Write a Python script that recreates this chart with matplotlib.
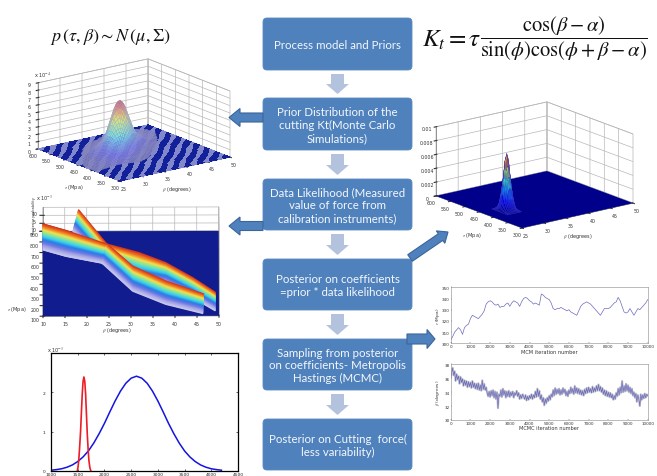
import numpy as np
import matplotlib
matplotlib.use("Agg")
import matplotlib.pyplot as plt
from matplotlib.patches import FancyBboxPatch, FancyArrow
from matplotlib.colors import LinearSegmentedColormap
from mpl_toolkits.mplot3d import proj3d

W, H = 657, 477
plt.rcParams['mathtext.fontset'] = 'stix'

# ---------- flow chart content ----------
box_labels = ["Process model and Priors",
              "Prior Distribution of the\ncutting Kt(Monte Carlo\nSimulations)",
              "Data Likelihood (Measured\nvalue of force from\ncalibration instruments)",
              "Posterior on coefficients\n=prior * data likelihood",
              "Sampling from posterior\non coefficients- Metropolis\nHastings (MCMC)",
              "Posterior on Cutting  force(\nless variability)"]
box_tops = [19, 99, 180, 260, 340, 420]
box_bottoms = [71, 151, 231, 311, 391, 471]

# ---------- line chart ----------
blue_x = [1000, 1100, 1200, 1300, 1400, 1500, 1600, 1700, 1800, 1900, 2000, 2100, 2200, 2300, 2400, 2500, 2600,
          2700, 2800, 2900, 3000, 3100, 3200, 3300, 3400, 3500, 3600, 3700, 3800, 3900, 4000, 4100, 4190]
blue_y = [.02, .035, .057, .096, .154, .24, .357, .51, .71, .947, 1.21, 1.50, 1.78, 2.03, 2.23, 2.36, 2.41,
          2.36, 2.23, 2.03, 1.78, 1.50, 1.21, .947, .71, .51, .357, .24, .154, .096, .057, .035, .02]
red_x = [1492, 1508, 1523, 1538, 1554, 1570, 1585, 1600, 1616, 1632, 1648, 1663, 1679, 1695, 1710, 1728, 1747]
red_y = [0, .12, .34, .65, 1.02, 1.52, 1.96, 2.28, 2.39, 2.28, 1.96, 1.46, .94, .55, .26, .08, 0]

# ---------- MCMC traces ----------
tau_trace = [303, 306, 310, 312, 314, 312, 308, 314, 316, 317, 322, 325, 324, 323, 322, 324, 326, 329, 335, 337,
             338, 337, 335, 334, 335, 332, 333, 333, 335, 336, 333, 336, 338, 337, 336, 333, 337, 340, 341, 340,
             338, 337, 335, 336, 335, 334, 344, 343, 341, 340, 339, 336, 331, 330, 331, 331, 332, 331, 330, 329,
             330, 328, 327, 326, 325, 329, 333, 335, 336, 337, 336, 335, 333, 331, 329, 327, 325, 328, 331, 331,
             331, 332, 334, 336, 337, 341, 338, 333, 328, 327, 328, 331, 328, 325, 328, 331, 330, 332, 334, 336, 339]
beta_trace = [36.0, 36.8, 37.5, 36.4, 37.0, 35.6, 36.6, 35.8, 36.3, 35.2, 36.2, 35.4, 35.9, 34.9, 35.7, 35.0, 35.6, 34.7, 35.5, 34.8,
              35.4, 34.6, 35.6, 34.7, 35.3, 34.5, 35.2, 34.4, 35.3, 34.3, 35.0, 34.2, 35.7, 34.4, 35.2, 34.3, 34.7, 33.9, 33.4, 34.1,
              33.3, 34.2, 33.5, 34.3, 33.2, 34.1, 33.0, 34.0, 31.7, 33.7, 33.4, 34.3, 33.3, 34.5, 33.6, 34.2, 33.2, 34.1, 33.4, 34.2,
              33.3, 34.0, 33.5, 34.1, 33.2, 33.9, 33.6, 34.2, 33.4, 33.9, 33.0, 33.6, 33.1, 33.7, 33.4, 33.0, 33.6, 32.8, 33.4, 32.9,
              33.5, 33.1, 33.7, 33.0, 33.6, 33.2, 34.1, 33.3, 34.5, 33.4, 34.2, 33.0, 33.6, 32.6, 33.2, 32.1, 33.0, 32.4, 33.2, 32.7,
              33.5, 32.9, 33.7, 33.3, 34.3, 33.5, 34.6, 33.7, 34.4, 33.8, 34.5, 33.6, 34.3, 33.7, 34.6, 33.9, 34.4, 33.5, 34.1, 33.4,
              34.3, 33.8, 34.7, 33.9, 34.5, 33.7, 34.9, 33.9, 34.6, 33.8, 34.5, 33.7, 34.3, 33.6, 34.2, 33.5, 34.4, 33.8, 34.6, 33.9,
              34.7, 34.0, 34.5, 33.9, 34.8, 34.0, 34.6, 34.1, 34.9, 34.2, 35.1, 34.2, 34.8, 34.0, 34.6, 33.7, 34.3, 33.5, 34.2, 33.4,
              34.0, 33.3, 33.9, 33.2, 33.7, 32.9, 33.5, 33.0, 33.9, 33.4, 34.5, 33.6, 34.7, 33.9, 35.6, 34.0, 34.9, 34.1, 35.2, 34.2,
              35.0, 34.0, 34.7, 33.8, 34.5, 33.5, 34.0, 33.2, 33.8, 32.6, 33.6, 33.0, 32.0, 33.7, 32.9, 33.6, 33.1, 33.8, 33.2, 33.7, 33.5]
trace_step = 50
tau_step = 100

# ---------- prior surface (top left) ----------
prior_tau_nodes = [380, 400, 420, 440, 460, 480, 500, 520, 540, 560, 580, 600]
prior_ridge_beta = [29.5, 31, 32.3, 33.5, 34.8, 36, 37.3, 38.5, 39.8, 41, 42.3, 43.5]
prior_ridge_z = [0.0, .5, 1.0, 1.8, 3.6, 5.9, 6.6, 4.6, 2.2, .8, .2, 0]
prior_cross_d = [-9, -7, -5, -4, -3, -2, -1, 0, 1, 2, 3, 4, 5, 7, 9]
prior_cross_f = [0, .03, .1, .2, .38, .65, .9, 1, .9, .65, .38, .2, .1, .03, 0]

# ---------- posterior surface (top right) ----------
post_tau_nodes = [395, 402, 409, 416, 423, 430, 437, 444, 451]
post_ridge_z = [0, .6, 1.9, 5.0, 8.2, 5.0, 1.9, .6, 0]
post_cross_d = [-1.6, -1.2, -.8, -.4, 0, .4, .8, 1.2, 1.6]
post_cross_f = [0, .15, .5, .88, 1, .88, .5, .15, 0]

# ---------- likelihood bands (middle left), beta / tau ----------
bandA_top_beta = [10, 15.3, 24.3, 31.9, 37.9, 44, 49.2]
bandA_top_tau = [969, 906, 781, 696, 602, 461, 320]
bandA_bot_beta = [10, 15.3, 23.2, 31.9, 37.9, 44, 49.2]
bandA_bot_tau = [727, 665, 602, 420, 398, 272, 147]
bandB_top_beta = [18.1, 24.3, 30.4, 37.9, 46.6]
bandB_top_tau = [1104, 790, 570, 429, 304]
bandB_bot_beta = [16.8, 23.4, 30.4, 37.9, 46.4]
bandB_bot_tau = [900, 602, 335, 210, 122]

BOX = '#4f81bd'
ARROW_EDGE = '#3a659b'
PALE = '#b3c3de'
GRID = '#b8b8b8'
TXT = '#333333'

fig = plt.figure(figsize=(W / 100, H / 100), dpi=100, facecolor='white')


def px_axes(l, t, r, b, **kw):
    return fig.add_axes([l / W, 1 - b / H, (r - l) / W, (b - t) / H], **kw)


# -------- overlay ---------
ov = fig.add_axes([0, 0, 1, 1], zorder=10)
ov.set_xlim(0, W)
ov.set_ylim(H, 0)
ov.axis('off')
ov.patch.set_alpha(0)

for lab, t, b in zip(box_labels, box_tops, box_bottoms):
    ov.add_patch(FancyBboxPatch((267, t + 4), 141, b - t - 8, boxstyle='round,pad=4,rounding_size=4',
                                fc=BOX, ec='#5a8ac2', lw=0.6))
    ov.text(337.5, (t + b) / 2 + 0.5, lab, color='#f4f7fb', ha='center', va='center',
            family='Lato', fontsize=8.3, linespacing=1.2)

for a, b in zip(box_bottoms[:-1], box_tops[1:]):
    ov.add_patch(FancyArrow(337.5, a + 4, 0, b - a - 8 + 0, width=13, head_width=23, head_length=10,
                            length_includes_head=True, fc=PALE, ec='none'))

for x, y, dx, dy, w_, hw, hl in [(263, 118.5, -34, 0, 9, 18, 11), (263, 227, -34, 0, 9, 18, 11),
                                 (407, 340, 28, 0, 10, 19, 8), (410, 259, 38, -26, 8, 15, 9)]:
    ov.add_patch(FancyArrow(x, y, dx, dy, width=w_, head_width=hw, head_length=hl,
                            length_includes_head=True, fc=BOX, ec=ARROW_EDGE, lw=0.8))

ov.text(50, 37, r'$p\,(\tau,\beta)\sim N\,(\mu,\Sigma)$', fontsize=13, va='center', ha='left', color='#111111')
ov.text(422, 40, r'$K_t=\tau$', fontsize=18, va='center', ha='left', color='#111111')
ov.text(480, 39, r'$\dfrac{\cos(\beta-\alpha)}{\sin(\phi)\cos(\phi+\beta-\alpha)}$',
        fontsize=14.8, va='center', ha='left', color='#111111')

small = dict(fontsize=3.6, color=TXT, ha='center', va='center')
ov.text(74, 188, r'$\tau$ (Mpa)', **small)
ov.text(177, 190, r'$\beta$ (degrees)', **small)
ov.text(43, 76, r'x 10$^{-4}$', **small)
ov.text(17, 310, r'$\tau$ (Mpa)', **small)
ov.text(117, 331, r'$\beta$ (degrees)', **small)
ov.text(44, 199, r'x 10$^{-3}$', **small)
ov.text(34, 216, 'Posterior probability', rotation=90, fontsize=2.6, color=TXT, ha='center', va='center')
ov.text(472, 236, r'$\tau$ (Mpa)', **small)
ov.text(578, 237, r'$\beta$ (degrees)', **small)


def style3d(ax, xt, yt, zt, xl, yl, zl, zfmt=None):
    ax.set_proj_type('ortho')
    ax.set_xlim(*xl); ax.set_ylim(*yl); ax.set_zlim(*zl)
    ax.set_xticks(xt); ax.set_yticks(yt); ax.set_zticks(zt)
    if zfmt:
        ax.set_zticklabels(zfmt)
    ax.tick_params(labelsize=3.4, pad=-4.5, colors=TXT, width=0.3, length=1)
    ax.patch.set_alpha(0)
    for a in (ax.xaxis, ax.yaxis, ax.zaxis):
        a.set_pane_color((1, 1, 1, 1))
        a.pane.set_edgecolor(GRID)
        a.pane.set_linewidth(0.5)
        a._axinfo['grid'].update(color=GRID, linewidth=0.5)
        a.line.set_linewidth(0.4)
        a.line.set_color('#555555')


def place3d(ax, c1, c2, t1, t2):
    """Move the 3D axes so that two floor corners land on the wanted pixels."""
    for _ in range(4):
        ax.apply_aspect()
        M = ax.get_proj()
        P = []
        for c in (c1, c2):
            x, y, _z = proj3d.proj_transform(*c, M)
            P.append(ax.transData.transform((x, y)))
        p1, p2 = P
        d_now = np.hypot(*(p2 - p1))
        d_want = np.hypot(t2[0] - t1[0], t2[1] - t1[1])
        s = d_want / d_now
        pos = ax.get_position(original=True)
        cx, cy = (pos.x0 + pos.x1) / 2, (pos.y0 + pos.y1) / 2
        midp = (p1 + p2) / 2
        midt = ((t1[0] + t2[0]) / 2, H - (t1[1] + t2[1]) / 2)
        cx += (midt[0] - midp[0]) / W
        cy += (midt[1] - midp[1]) / H
        wpx, hpx = pos.width * W * s, pos.height * H * s
        ax.set_position([cx - wpx / W / 2, cy - hpx / H / 2, wpx / W, hpx / H])


# -------- top-left prior surface ---------
ax = fig.add_axes([0.0, 0.55, 0.4, 0.4], projection='3d', computed_zorder=False)
style3d(ax, [25, 30, 35, 40, 45, 50], [300, 350, 400, 450, 500, 550, 600],
        list(range(0, 10)), (25, 50), (300, 600), (0, 9))
ax.view_init(elev=17, azim=-126.7)
ax.set_box_aspect((137, 137, 69))
bg, tg = np.meshgrid(np.linspace(25, 50, 61), np.linspace(300, 600, 61))
ii, jj = np.meshgrid(np.arange(60), np.arange(60))
stripe = np.where((ii - jj) % 7 < 4, 0, 1)
fc = np.empty(stripe.shape + (4,))
fc[stripe == 0] = matplotlib.colors.to_rgba('#12209a')
fc[stripe == 1] = matplotlib.colors.to_rgba('#8188cc')
ax.plot_surface(bg, tg, np.zeros_like(bg), facecolors=fc, shade=False, linewidth=0,
                antialiased=False, rstride=1, cstride=1, zorder=1)
bm = np.linspace(25, 50, 51)
tm = np.linspace(390, 600, 43)
Bm, Tm = np.meshgrid(bm, tm)
ridge_b = np.interp(tm, prior_tau_nodes, prior_ridge_beta)
ridge_z = np.interp(tm, prior_tau_nodes, prior_ridge_z)
Zm = np.array([h * np.interp(bm - c, prior_cross_d, prior_cross_f) for h, c in zip(ridge_z, ridge_b)])
Zmask = np.ma.masked_less(Zm, 0.02)
cm_jet = plt.get_cmap('jet')
cols = cm_jet(Zm / 6.6)
cols[..., :3] = 0.45 * cols[..., :3] + 0.55 * np.array([0.80, 0.80, 0.86])
ax.plot_surface(Bm, Tm, Zmask, facecolors=cols, shade=False, linewidth=0.15, edgecolor='#9a9ac8',
                rstride=1, cstride=1, zorder=2)
place3d(ax, (25, 600, 0), (50, 300, 0), (38, 150), (230, 158))

# -------- top-right posterior surface ---------
ax = fig.add_axes([0.6, 0.55, 0.4, 0.4], projection='3d', computed_zorder=False)
style3d(ax, [25, 30, 35, 40, 45, 50], [300, 350, 400, 450, 500, 550, 600],
        [0, .002, .004, .006, .008, .01], (25, 50), (300, 600), (0, .01),
        ['0', '0.002', '0.004', '0.006', '0.008', '0.01'])
ax.view_init(elev=16.8, azim=-127.8)
ax.set_box_aspect((140, 140, 72))
ax.plot_surface(np.array([[25, 50], [25, 50]]), np.array([[300, 300], [600, 600]]), np.zeros((2, 2)),
                color='#00008b', shade=False, linewidth=0, zorder=1)
bm = np.linspace(27.9, 31.1, 17)
tm = np.linspace(395, 451, 17)
Bm, Tm = np.meshgrid(bm, tm)
rz = np.interp(tm, post_tau_nodes, post_ridge_z)
Zm = np.array([h * np.interp(bm - 29.5, post_cross_d, post_cross_f) for h in rz]) * 1e-3
cols = cm_jet(Zm / Zm.max())
ax.plot_surface(Bm, Tm, Zm, facecolors=cols, shade=False, linewidth=0.25, edgecolor='#3030c0',
                rstride=1, cstride=1, zorder=2)
place3d(ax, (25, 600, 0), (50, 300, 0), (436, 197), (633, 204))

# -------- middle-left likelihood ---------
ax = fig.add_axes([0.0, 0.3, 0.4, 0.4], projection='3d', computed_zorder=False)
style3d(ax, list(range(10, 51, 5)), list(range(100, 901, 100)), [0, 5, 10],
        (10, 50), (100, 900), (0, 15))
ax.view_init(elev=60, azim=-90.15)
ax.set_box_aspect((176, 98, 48))
ax.plot_surface(np.array([[10, 50], [10, 50]]), np.array([[100, 100], [900, 900]]), np.zeros((2, 2)),
                color='#111d8e', shade=False, linewidth=0, zorder=1)
ramp = LinearSegmentedColormap.from_list('band', ['#d2301e', '#f07a20', '#f2e04e', '#82e6a0', '#38d0f0',
                                                  '#2c7ce4', '#6c78e4', '#a4a4e8', '#c4c4ec'])


def band(ax, tb, tt, bb, bt, zo, n=45):
    tb, tt, bb, bt = map(np.asarray, (tb, tt, bb, bt))
    for k, f in enumerate(np.linspace(0, 1, n)):
        ax.plot(tb + (bb - tb) * f, tt + (bt - tt) * f, zs=0, color=ramp(f), lw=1.0,
                zorder=zo + k * 0.001, solid_capstyle='butt')


band(ax, bandA_top_beta, bandA_top_tau, bandA_bot_beta, bandA_bot_tau, 2)
band(ax, bandB_top_beta, bandB_top_tau, bandB_bot_beta, bandB_bot_tau, 3)
band(ax, bandA_top_beta[:3], bandA_top_tau[:3], bandA_bot_beta[:3], bandA_bot_tau[:3], 4)
place3d(ax, (10, 100, 0), (50, 100, 0), (43, 317), (219, 317))

# -------- bottom-left density ---------
ax = px_axes(51, 354, 238, 472)
ax.plot(blue_x, blue_y, color='#1414e0', lw=1.1)
ax.plot(red_x, red_y, color='#ee1c25', lw=1.2)
ax.set_xlim(1000, 4500)
ax.set_ylim(0, 3)
ax.set_xticks(range(1000, 4501, 500))
ax.set_yticks([0, 1, 2])
ax.tick_params(labelsize=3.2, length=1.5, width=0.5, pad=0.6, direction='in', top=True, right=True, colors='#222222')
ax.tick_params(axis='y', pad=4)
for s in ax.spines.values():
    s.set_linewidth(0.9)
ov.text(55, 351, r'x 10$^{-3}$', **small)

# -------- MCMC traces ---------
for (t, b, tr, step, ylim, yt, yl, xl) in [
        (288.3, 344.3, tau_trace, tau_step, (300, 350), range(300, 351, 10), r'$\tau$ (Mpa)', 'MCM iteration number'),
        (365.3, 421, beta_trace, trace_step, (30, 38), range(30, 39, 2), r'$\beta$ (degrees)', 'MCMC iteration number')]:
    ax = px_axes(450.7, t, 647.7, b)
    xs = np.arange(len(tr)) * step
    if step == trace_step:
        ax.plot(xs, tr, color='#c8c8d0', lw=1.5)
    ax.plot(xs, tr, color='#6c6cbc', lw=0.5)
    ax.set_xlim(0, 10000)
    ax.set_ylim(*ylim)
    ax.set_xticks(range(0, 10001, 1000))
    ax.set_yticks(list(yt))
    ax.tick_params(labelsize=3.0, length=1, width=0.3, pad=0.8, direction='in', colors=TXT)
    for s in ax.spines.values():
        s.set_linewidth(0.4)
        s.set_color('#888888')
    ov.text(549, b + 8, xl, **small)
    ov.text(438, (t + b) / 2, yl, rotation=90, fontsize=3.2, color=TXT, ha='center', va='center')

fig.savefig('out.png', dpi=100)
